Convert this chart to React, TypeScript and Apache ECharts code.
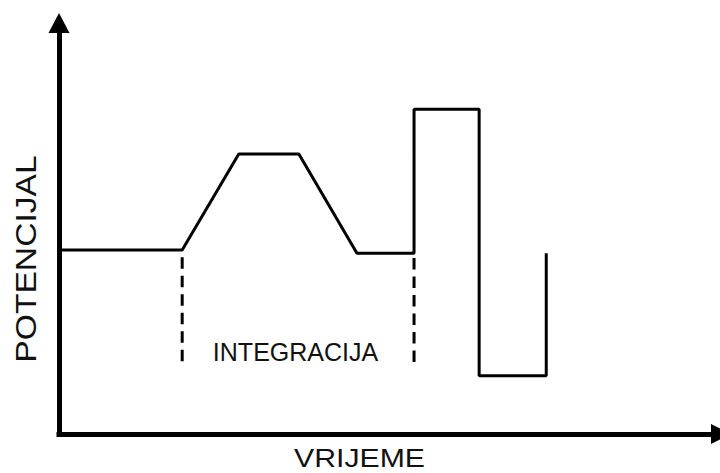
import React, { useEffect, useRef } from "react";
import * as echarts from "echarts";

// Waveform (time, potential) in arbitrary units
const waveTime = [0, 24.6, 35.9, 47.9, 59.5, 70.9, 70.9, 83.9, 83.9, 97.3, 97.3];
const wavePotential = [45.9, 45.9, 69.8, 69.8, 45.1, 45.1, 81.0, 81.0, 14.5, 14.5, 45.1];

// Integration window markers (dashed)
const markerTime = [24.6, 70.9];
const markerTop = [44.1, 43.9];
const markerBottom = [18.0, 17.7];

const xLabel = "VRIJEME";
const yLabel = "POTENCIJAL";
const windowLabel = "INTEGRACIJA";

const X_MAX = 130;
const Y_MAX = 100;

export default function App() {
  const ref = useRef<HTMLDivElement>(null);

  useEffect(() => {
    if (!ref.current) return;
    const chart = echarts.init(ref.current, null, { renderer: "svg" });
    const font = "'Liberation Sans', Arial, Helvetica, sans-serif";

    const waveData = waveTime.map((t, i) => [t, wavePotential[i]]);
    const markerSeries = markerTime.map((t, i) => ({
      type: "line",
      data: [
        [t, markerTop[i]],
        [t, markerBottom[i]],
      ],
      symbol: "none",
      silent: true,
      clip: false,
      lineStyle: { color: "#000", width: 3, type: [11.5, 7] },
    }));

    chart.setOption({
      animation: false,
      backgroundColor: "#fff",
      grid: { left: 59, right: 10, top: 33, bottom: 39 },
      xAxis: {
        type: "value",
        min: 0,
        max: X_MAX,
        axisLine: {
          show: true,
          symbol: ["none", "triangle"],
          symbolSize: [20, 20],
          symbolOffset: [0, 11],
          lineStyle: { color: "#000", width: 5, cap: "square" },
        },
        axisTick: { show: false },
        axisLabel: { show: false },
        splitLine: { show: false },
      },
      yAxis: {
        type: "value",
        min: 0,
        max: Y_MAX,
        axisLine: {
          show: true,
          symbol: ["none", "triangle"],
          symbolSize: [21, 20],
          symbolOffset: [0, 10],
          lineStyle: { color: "#000", width: 5, cap: "square" },
        },
        axisTick: { show: false },
        axisLabel: { show: false },
        splitLine: { show: false },
      },
      series: [
        {
          type: "line",
          data: waveData,
          symbol: "none",
          silent: true,
          clip: false,
          lineStyle: { color: "#000", width: 3 },
        },
        ...markerSeries,
      ],
      graphic: [
        {
          type: "text",
          x: 295.5,
          y: 352,
          style: {
            text: windowLabel,
            fontSize: 25,
            fontFamily: font,
            fill: "#111",
            align: "center",
            verticalAlign: "middle",
            textAlign: "center",
            textVerticalAlign: "middle",
          },
        },
        {
          type: "text",
          x: 359.5,
          y: 458,
          scaleX: 1.21,
          style: {
            text: xLabel,
            fontSize: 25,
            fontFamily: font,
            fill: "#111",
            align: "center",
            verticalAlign: "middle",
            textAlign: "center",
            textVerticalAlign: "middle",
          },
        },
        {
          type: "text",
          x: 26,
          y: 259,
          rotation: Math.PI / 2,
          scaleX: 1.16,
          style: {
            text: yLabel,
            fontSize: 29,
            fontFamily: font,
            fill: "#111",
            align: "center",
            verticalAlign: "middle",
            textAlign: "center",
            textVerticalAlign: "middle",
          },
        },
      ],
    });

    return () => chart.dispose();
  }, []);

  return (
    <div
      ref={ref}
      style={{ position: "absolute", left: 0, top: 0, width: 720, height: 473 }}
    />
  );
}
